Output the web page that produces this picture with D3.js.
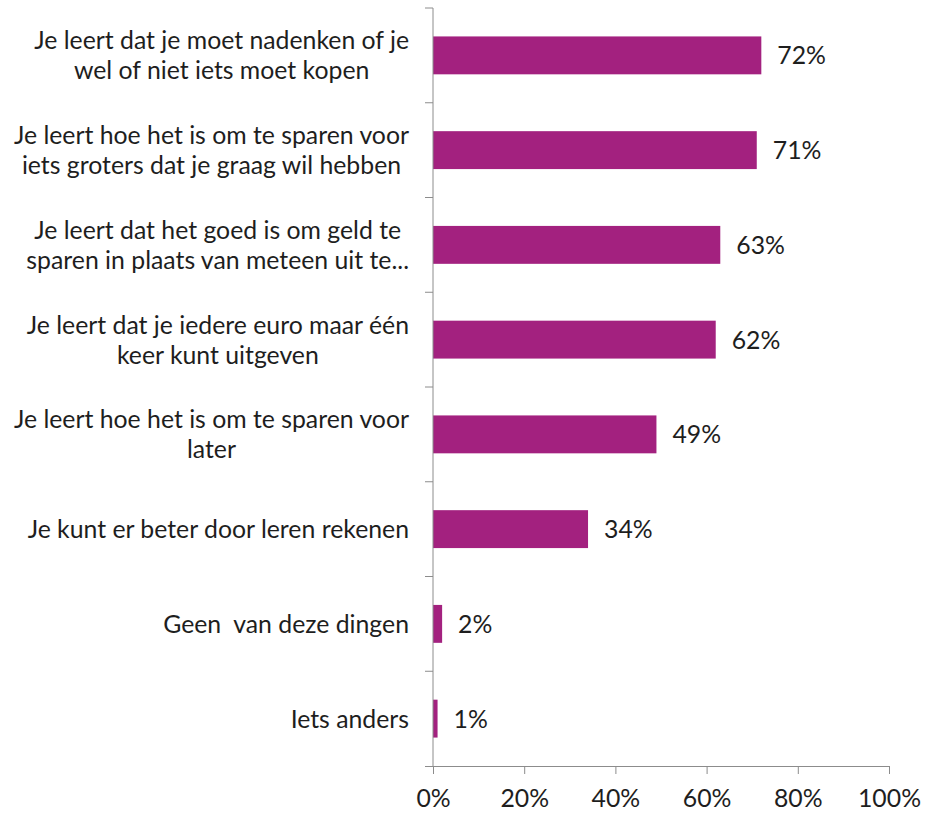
<!DOCTYPE html>
<html><head><meta charset="utf-8">
<script src="https://cdn.jsdelivr.net/npm/d3@7"></script>
<style>body{margin:0;background:#fff} text{white-space:pre}</style>
</head><body>
<svg id="c" width="931" height="819"></svg>
<script>
const categories = [
  ["Je leert dat je moet nadenken of je", "wel of niet iets moet kopen"],
  ["Je leert hoe het is om te sparen voor", "iets groters dat je graag wil hebben"],
  ["Je leert dat het goed is om geld te", "sparen in plaats van meteen uit te..."],
  ["Je leert dat je iedere euro maar één", "keer kunt uitgeven"],
  ["Je leert hoe het is om te sparen voor", "later"],
  ["Je kunt er beter door leren rekenen"],
  ["Geen  van deze dingen"],
  ["Iets anders"]
];
const values = [72, 71, 63, 62, 49, 34, 2, 1];
const xTicks = [0, 20, 40, 60, 80, 100];

const FONT = "Lato, 'Open Sans', sans-serif";
const FS = 24.8;
const svg = d3.select("#c");
const m = {left: 433, right: 889, top: 8, bottom: 766};
const x = d3.scaleLinear().domain([0, 100]).range([m.left, m.right]);
const y = d3.scaleBand().domain(d3.range(categories.length)).range([m.top, m.bottom]).paddingInner(0.6).paddingOuter(0.3);
const color = "#A3217F", axisCol = "#8c8c8c", textCol = "#1e1e1e";

// bars
svg.append("g").selectAll("rect").data(values).join("rect")
  .attr("x", x(0)).attr("y", (d,i) => y(i))
  .attr("width", d => x(d) - x(0)).attr("height", y.bandwidth())
  .attr("fill", color);

// value labels
svg.append("g").selectAll("text").data(values).join("text")
  .attr("x", d => x(d) + 16).attr("y", (d,i) => y(i) + y.bandwidth()/2)
  .attr("dy", "0.36em").attr("font-family", FONT).attr("font-size", FS)
  .attr("fill", textCol).text(d => d + "%");

// y axis line & ticks (category boundaries)
const step = (m.bottom - m.top) / categories.length;
const yAxis = svg.append("g");
yAxis.append("line").attr("x1", m.left).attr("x2", m.left).attr("y1", m.top).attr("y2", m.bottom)
  .attr("stroke", axisCol).attr("stroke-width", 1);
yAxis.selectAll("line.t").data(d3.range(categories.length)).join("line").attr("class","t")
  .attr("x1", m.left - 8).attr("x2", m.left)
  .attr("y1", i => m.top + i*step).attr("y2", i => m.top + i*step)
  .attr("stroke", axisCol);

// x axis
const xa = svg.append("g").attr("transform", `translate(0,${m.bottom})`)
  .call(d3.axisBottom(x).tickValues(xTicks).tickSize(8).tickSizeOuter(0).tickPadding(15).tickFormat(d => d + "%"));
xa.select(".domain").attr("stroke", axisCol).attr("d", `M${m.left-8},0.5H${m.right}`);
xa.selectAll(".tick line").attr("stroke", axisCol);
xa.selectAll("text").attr("font-family", FONT).attr("font-size", FS).attr("fill", textCol);

// category labels
const lg = svg.append("g");
categories.forEach((lines, i) => {
  const cy = y(i) + y.bandwidth()/2;
  const lh = 30;
  const g = lg.append("g");
  const ts = lines.map((t, j) => g.append("text")
    .attr("font-family", FONT).attr("font-size", FS).attr("fill", textCol)
    .attr("text-anchor", "middle")
    .attr("y", cy + (j - (lines.length-1)/2) * lh).attr("dy", "0.36em").text(t));
  const w = d3.max(ts, t => t.node().getComputedTextLength());
  ts.forEach(t => t.attr("x", 409 - w/2));
});
</script>
</body></html>
